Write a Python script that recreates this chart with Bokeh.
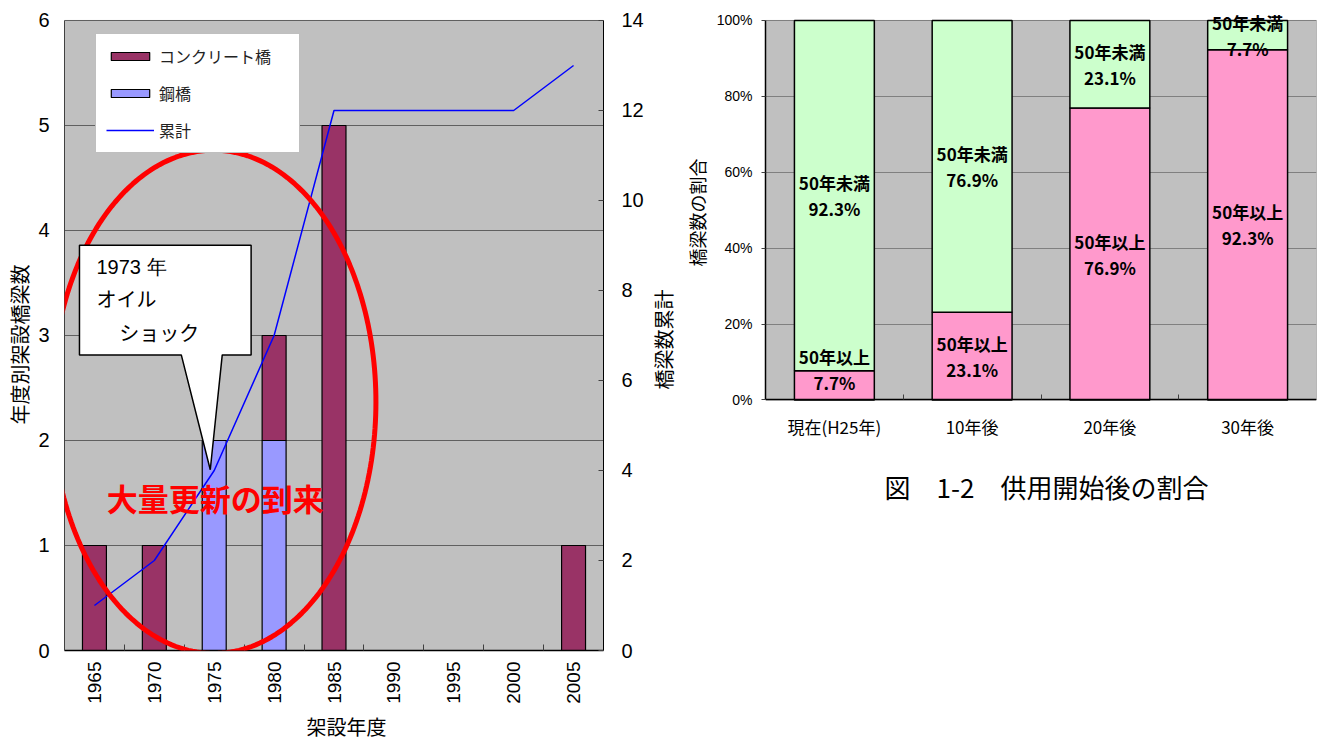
import numpy as np
from bokeh.plotting import figure
from bokeh.layouts import row
from bokeh.models import (ColumnDataSource, Range1d, LinearAxis, FixedTicker, Legend,
                          LegendItem, Label, PolyAnnotation, BoxAnnotation, Title,
                          PrintfTickFormatter)
from bokeh.core.properties import value
from bokeh.embed import file_html
from bokeh.resources import INLINE

# ---------------- data: left chart ----------------
years = [1965, 1970, 1975, 1980, 1985, 1990, 1995, 2000, 2005]
concrete_bridges = [1, 1, 0, 1, 5, 0, 0, 0, 1]
steel_bridges = [0, 0, 2, 2, 0, 0, 0, 0, 0]
cumulative = [1, 2, 4, 7, 12, 12, 12, 12, 13]
left_series = ["コンクリート橋", "鋼橋", "累計"]
count_ticks = [0, 1, 2, 3, 4, 5, 6]
cumulative_ticks = [0, 2, 4, 6, 8, 10, 12, 14]
callout_lines = ["1973 年", "オイル", "ショック"]
highlight_text = "大量更新の到来"

# ---------------- data: right chart ----------------
periods = ["現在(H25年)", "10年後", "20年後", "30年後"]
age_groups = ["50年以上", "50年未満"]
share_over_50 = [7.7, 23.1, 76.9, 92.3]
share_under_50 = [92.3, 76.9, 23.1, 7.7]
percent_ticks = [0, 20, 40, 60, 80, 100]
caption = "図　1-2　供用開始後の割合"

CJK = "Noto Sans CJK JP"
NUM = "Liberation Sans"
GRAY = "#C0C0C0"

TOP_PAD = 12          # white gap above the grey plot areas inside the frames
LEFT_H = 631          # height of left grey area (px)


def axis_title(text, side_offset, standoff, size):
    # align="left": text starts at the frame's bottom (left side) / left edge (below)
    return Title(text=text, align="left", offset=side_offset, standoff=standoff,
                 text_font=CJK, text_font_size=size, text_font_style="normal",
                 text_color="black")


# =============== LEFT CHART ===============
half = (years[1] - years[0]) / 2
cmax = count_ticks[-1]
kmax = cumulative_ticks[-1]
p1 = figure(width=646, height=743, output_backend="svg", toolbar_location=None,
            x_range=Range1d(years[0] - half, years[-1] + half),
            y_range=Range1d(0, cmax * (1 + TOP_PAD / LEFT_H)),
            min_border_left=63, min_border_right=42, min_border_top=8, min_border_bottom=92,
            background_fill_color="white", border_fill_color="white",
            outline_line_color=None)
p1.extra_y_ranges = {"cum": Range1d(0, kmax * (1 + TOP_PAD / LEFT_H))}

p1.add_layout(BoxAnnotation(bottom=0, top=cmax, fill_color=GRAY, fill_alpha=1.0,
                            line_color="#808080", line_alpha=1.0, line_width=1,
                            level="image"))

src1 = ColumnDataSource(dict(year=years, steel=steel_bridges, concrete=concrete_bridges))
steel_r, conc_r = p1.vbar_stack(["steel", "concrete"], x="year", width=2.0, source=src1,
                                fill_color=["#9999FF", "#993366"], line_color="black",
                                line_width=1.2)
line_r = p1.line(years, cumulative, y_range_name="cum", line_color="#0000FF", line_width=1.5)

xax = p1.xaxis[0]
xax.ticker = FixedTicker(ticks=years,
                         minor_ticks=[(a + b) / 2 for a, b in zip(years[:-1], years[1:])])
xax.major_label_orientation = np.pi / 2
xax.major_label_text_font = NUM
xax.major_label_text_font_size = "19px"
xax.major_label_text_color = "black"
xax.major_label_standoff = 11
xax.major_tick_in = 0
xax.major_tick_out = 0
xax.minor_tick_in = 6
xax.minor_tick_out = 0
xax.minor_tick_line_color = "#404040"
xax.axis_line_color = "black"
xax.axis_line_width = 1.5
p1.add_layout(axis_title("架設年度", 242, 6, "20px"), "below")

yax = p1.yaxis[0]
yax.ticker = FixedTicker(ticks=count_ticks)
yax.bounds = (0, cmax)
yax.major_label_text_font = NUM
yax.major_label_text_font_size = "20px"
yax.major_label_text_color = "black"
yax.major_tick_in = 0
yax.major_tick_out = 0
yax.axis_line_color = "#404040"
yax.major_label_standoff = 15
p1.add_layout(axis_title("年度別架設橋梁数", 226, 4, "20px"), "left")

rax = LinearAxis(y_range_name="cum", ticker=FixedTicker(ticks=cumulative_ticks),
                 bounds=(0, kmax))
rax.major_label_text_font = NUM
rax.major_label_text_font_size = "20px"
rax.major_label_text_color = "black"
rax.major_tick_in = 5
rax.major_tick_out = 0
rax.major_tick_line_color = "#404040"
rax.axis_line_color = "black"
rax.major_label_standoff = 18
p1.add_layout(rax, "right")

p1.ygrid.ticker = FixedTicker(ticks=count_ticks)
p1.ygrid.grid_line_color = "#606060"
p1.xgrid.visible = False

legend = Legend(items=[LegendItem(label=value(left_series[0]), renderers=[conc_r]),
                       LegendItem(label=value(left_series[1]), renderers=[steel_r]),
                       LegendItem(label=value(left_series[2]), renderers=[line_r])],
                location=(31, 497), margin=0, padding=10, spacing=13,
                glyph_width=48, glyph_height=10, label_height=20, label_width=130,
                label_standoff=5, label_text_font=CJK, label_text_font_size="16px",
                label_text_color="#222222", border_line_color="#808080",
                background_fill_color="white", background_fill_alpha=1.0)
p1.add_layout(legend)

# red ellipse highlight
theta = np.linspace(0, 2 * np.pi, 241)
ellipse = PolyAnnotation(xs=list(1974.96 + 13.54 * np.cos(theta)),
                         ys=list(2.368 + 2.396 * np.sin(theta)),
                         fill_alpha=0.0, line_color="#FF0000", line_alpha=1.0, line_width=5)
p1.add_layout(ellipse)

# callout bubble
callout = PolyAnnotation(xs=[1963.75, 1978.08, 1978.08, 1975.67, 1974.67, 1972.25, 1963.75],
                         ys=[3.860, 3.860, 2.815, 2.815, 1.721, 2.815, 2.815],
                         fill_color="white", fill_alpha=1.0, line_color="black",
                         line_alpha=1.0, line_width=1.5)
p1.add_layout(callout)

for txt, cx, cy, fnt in [(callout_lines[0], 1965.17, 3.651, NUM),
                         (callout_lines[1], 1965.17, 3.357, CJK),
                         (callout_lines[2], 1967.08, 3.033, CJK)]:
    p1.add_layout(Label(x=cx, y=cy, text=txt, text_font=fnt, text_font_size="20px",
                        text_color="black", text_align="left", text_baseline="middle"))

p1.add_layout(Label(x=1975.08, y=1.455, text=highlight_text, text_font=CJK,
                    text_font_size="31px", text_font_style="bold", text_color="#FF0000",
                    text_align="center", text_baseline="middle"))

# =============== RIGHT CHART ===============
n = len(periods)
PX_PER_PCT = 3.8                      # grey area: 380 px for 100 %
below_px = 651 - 400                  # frame extends below the 0 % line
p2 = figure(width=675, height=743, output_backend="svg", toolbar_location=None,
            x_range=Range1d(0, n),
            y_range=Range1d(-below_px / PX_PER_PCT, 100 + TOP_PAD / PX_PER_PCT),
            min_border_left=114, min_border_right=5, min_border_top=8, min_border_bottom=92,
            background_fill_color="white", border_fill_color="white",
            outline_line_color=None)
p2.add_layout(BoxAnnotation(bottom=0, top=100, fill_color=GRAY, fill_alpha=1.0,
                            line_color="#808080", line_alpha=1.0, line_width=1,
                            level="image"))

pos = [i + 0.5 for i in range(n)]
src2 = ColumnDataSource(dict(x=pos, over=share_over_50, under=share_under_50))
p2.vbar_stack(["over", "under"], x="x", width=0.58, source=src2,
              fill_color=["#FF99CC", "#CCFFCC"], line_color="black", line_width=1.5)

# segment labels
for i in range(n):
    o, u = share_over_50[i], share_under_50[i]
    for name, val, cy in [(age_groups[0], o, max(o / 2, 7.9)),
                          (age_groups[1], u, o + u / 2)]:
        for txt, off in [(name, 13), (f"{val}%", -13)]:
            p2.add_layout(Label(x=pos[i], y=cy, y_offset=off, text=txt, text_font=CJK,
                                text_font_size="17px", text_font_style="bold",
                                text_color="black", text_align="center",
                                text_baseline="middle"))

xax2 = p2.xaxis[0]
xax2.fixed_location = 0
xax2.ticker = FixedTicker(ticks=pos, minor_ticks=list(range(1, n)))
xax2.major_label_overrides = {p: lab for p, lab in zip(pos, periods)}
xax2.major_label_text_font = CJK
xax2.major_label_text_font_size = "17px"
xax2.major_label_text_color = "black"
xax2.major_label_standoff = 14
xax2.major_tick_in = 0
xax2.major_tick_out = 0
xax2.minor_tick_in = 5
xax2.minor_tick_out = 0
xax2.minor_tick_line_color = "#404040"
xax2.axis_line_color = "black"
xax2.axis_line_width = 1.5

yax2 = p2.yaxis[0]
yax2.ticker = FixedTicker(ticks=percent_ticks)
yax2.bounds = (0, 100)
yax2.formatter = PrintfTickFormatter(format="%d%%")
yax2.major_label_text_font = NUM
yax2.major_label_text_font_size = "14px"
yax2.major_label_text_color = "black"
yax2.major_tick_in = 0
yax2.major_tick_out = 4
yax2.major_tick_line_color = "#404040"
yax2.axis_line_color = "black"
yax2.axis_line_width = 1.5
yax2.major_label_standoff = 9
# y title of the right chart, then the right-axis title of the left chart (further out)
p2.add_layout(axis_title("橋梁数の割合", 384, 8, "18px"), "left")
p2.add_layout(axis_title("橋梁数累計", 261, 0, "20px"), "left")

p2.ygrid.ticker = FixedTicker(ticks=percent_ticks)
p2.ygrid.grid_line_color = "#808080"
p2.xgrid.visible = False

p2.add_layout(Label(x=2.04, y=-22.9, text=caption, text_font=CJK, text_font_size="26px",
                    text_color="black", text_align="center", text_baseline="middle"))

layout = row(p1, p2)
open("out.html", "w").write(file_html(layout, INLINE, title="chart"))
